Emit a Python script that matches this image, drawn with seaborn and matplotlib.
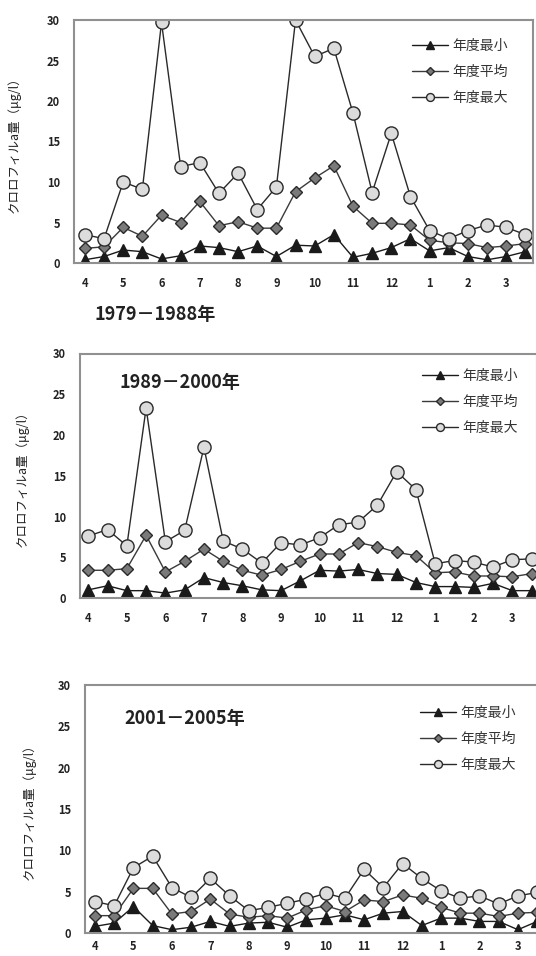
import numpy as np
import pandas as pd
import matplotlib
matplotlib.use("Agg")
import matplotlib.pyplot as plt
import seaborn as sns

# ---- data ----
month_labels = ["4", "5", "6", "7", "8", "9", "10", "11", "12", "1", "2", "3"]
series_names = ["年度最小", "年度平均", "年度最大"]
period_titles = ["1979－1988年", "1989－2000年", "2001－2005年"]

p1_min = [0.4, 0.8, 1.6, 1.4, 0.5, 0.9, 2.1, 1.9, 1.4, 2.1, 0.8, 2.2,
          2.1, 3.5, 0.7, 1.2, 1.9, 3.0, 1.5, 1.9, 0.8, 0.4, 0.8, 1.4]
p1_mean = [1.8, 2.0, 4.4, 3.3, 5.9, 5.0, 7.6, 4.6, 5.1, 4.3, 4.3, 8.8,
           10.5, 12.0, 7.0, 4.9, 4.9, 4.7, 2.8, 2.5, 2.4, 1.9, 2.1, 2.4]
p1_max = [3.5, 3.0, 10.0, 9.1, 29.7, 11.9, 12.4, 8.6, 11.1, 6.6, 9.4, 30.0,
          25.5, 26.5, 18.5, 8.7, 16.0, 8.2, 4.0, 3.0, 4.0, 4.7, 4.4, 3.5]

p2_min = [1.0, 1.5, 0.9, 0.9, 0.6, 1.0, 2.5, 1.9, 1.5, 1.0, 0.9, 2.1,
          3.4, 3.3, 3.5, 3.0, 2.9, 1.9, 1.4, 1.4, 1.3, 1.8, 0.9, 0.9]
p2_mean = [3.4, 3.4, 3.6, 7.7, 3.2, 4.5, 6.0, 4.5, 3.4, 2.8, 3.5, 4.5,
           5.4, 5.4, 6.8, 6.3, 5.6, 5.2, 3.1, 3.2, 2.7, 2.7, 2.6, 3.0]
p2_max = [7.6, 8.4, 6.4, 23.3, 6.9, 8.3, 18.5, 7.0, 6.0, 4.3, 6.8, 6.5,
          7.4, 9.0, 9.3, 11.4, 15.5, 13.3, 4.2, 4.6, 4.4, 3.8, 4.7, 4.8]

p3_min = [0.8, 1.2, 3.2, 0.9, 0.4, 0.7, 1.4, 0.8, 1.2, 1.3, 0.7, 1.6,
          1.8, 2.2, 1.6, 2.4, 2.6, 0.9, 1.8, 1.8, 1.4, 1.4, 0.4, 1.4]
p3_mean = [2.1, 2.1, 5.4, 5.4, 2.3, 2.6, 4.1, 2.3, 1.9, 2.1, 1.8, 2.8,
           3.3, 2.6, 4.0, 3.8, 4.6, 4.2, 3.1, 2.4, 2.4, 2.0, 2.4, 2.5]
p3_max = [3.8, 3.3, 7.9, 9.3, 5.5, 4.3, 6.6, 4.5, 2.7, 3.1, 3.6, 4.1,
          4.8, 4.2, 7.7, 5.5, 8.4, 6.6, 5.1, 4.2, 4.5, 3.5, 4.5, 4.9]

panels = [(p1_min, p1_mean, p1_max), (p2_min, p2_mean, p2_max), (p3_min, p3_mean, p3_max)]

# ---- style ----
sns.set_style("white")
plt.rcParams["font.family"] = ["Noto Sans CJK JP", "DejaVu Sans"]

W, H = 536, 956
fig = plt.figure(figsize=(W / 100, H / 100), dpi=100)

# axes boxes in pixels: left, right, top, bottom
boxes = [(74, 533, 20, 263), (80, 537, 353.5, 598), (85, 541, 685, 933)]
xlims = [(-0.57, 23.4), (-0.43, 23.28), (-0.52, 23.2)]
ylab_x = [-0.115, -0.112, -0.107]
legend_pos = [(0.736, 0.922), (0.748, 0.936), (0.734, 0.915)]
title_pos = [(155, 315), (180, 382), (185, 719)]
xpads = [10, 10, 5]

styles = [
    dict(marker="^", markersize=8.5, markerfacecolor="#1a1a1a", markeredgecolor="#1a1a1a", color="#1a1a1a"),
    dict(marker="D", markersize=6.5, markerfacecolor="#7a7a7a", markeredgecolor="#2a2a2a", color="#3a3a3a"),
    dict(marker="o", markersize=9.5, markerfacecolor="#dcdcdc", markeredgecolor="#2a2a2a", color="#2a2a2a"),
]

for i, (series, box) in enumerate(zip(panels, boxes)):
    l, r, t, b = box
    ax = fig.add_axes([l / W, 1 - b / H, (r - l) / W, (b - t) / H])
    n = len(series[0])
    for name, vals, st in zip(series_names, series, styles):
        d = pd.DataFrame({"x": np.arange(n), "y": vals})
        sns.lineplot(data=d, x="x", y="y", ax=ax, label=name, linewidth=1.0,
                     markeredgewidth=1.0, **st)
    ax.set_xlim(*xlims[i])
    ax.set_ylim(0, 30)
    ax.set_yticks(np.arange(0, 31, 5))
    ax.set_xticks(np.arange(0, n, 2))
    ax.set_xticklabels(month_labels)
    ax.tick_params(axis="y", length=0, pad=10, labelsize=8, colors="#222222")
    ax.tick_params(axis="x", length=0, pad=xpads[i], labelsize=8, colors="#222222")
    for lab in ax.get_xticklabels() + ax.get_yticklabels():
        lab.set_fontweight("bold")
    ax.set_xlabel("")
    ax.set_ylabel("クロロフィルa量（μg/l）", fontsize=9, color="#222222")
    ax.yaxis.set_label_coords(ylab_x[i], 0.5)
    for sp in ax.spines.values():
        sp.set_visible(True)
        sp.set_color("#909090")
        sp.set_linewidth(1.5)
    leg = ax.legend(loc="upper left", bbox_to_anchor=legend_pos[i], frameon=False,
                    fontsize=10, handlelength=2.6, handletextpad=0.3, labelspacing=0.85,
                    borderpad=0, borderaxespad=0, markerscale=0.6)
    for txt in leg.get_texts():
        txt.set_color("#333333")
    tx, ty = title_pos[i]
    fig.text(tx / W, 1 - ty / H, period_titles[i], ha="center", va="center",
             fontsize=13, fontweight="bold", color="#222222")

fig.savefig("out.png", dpi=100)
